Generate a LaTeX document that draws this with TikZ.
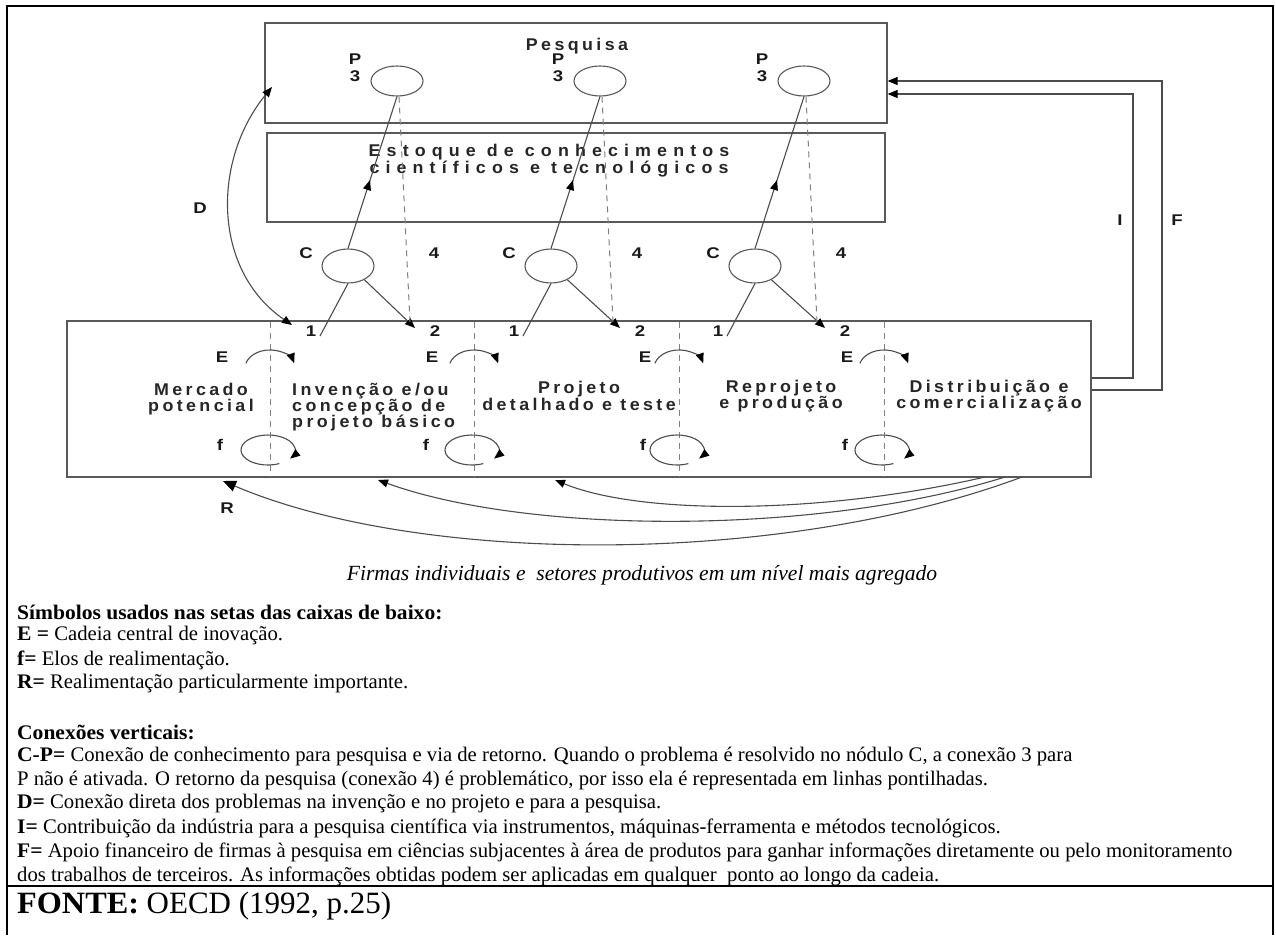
\documentclass[tikz,border=0pt]{standalone}
\usepackage{fontspec}
\setmainfont{Liberation Serif}[BoldFeatures={FakeStretch=1.04}]
\newfontfamily\diagfont[LetterSpace=20, FakeStretch=1.05]{Liberation Sans}
\newfontfamily\diagwide[LetterSpace=36, FakeStretch=1.05]{Liberation Sans}
\newfontfamily\labfont[FakeStretch=1.2]{Liberation Sans}
\usetikzlibrary{arrows.meta,decorations.markings,shapes.geometric}

\begin{document}
\begin{tikzpicture}[x=1pt,y=-1pt,
  frame/.style={draw=black, line width=2.6pt},
  box/.style={draw=black!65, line width=1.2pt, inner sep=0},
  circ/.style={ellipse, draw=black!65, line width=1.1pt, inner sep=0},
  line/.style={draw=black!70, line width=1.1pt},
  dashline/.style={draw=black!50, line width=1pt, dash pattern=on 6pt off 5pt},
  tip/.style={-{Triangle[length=10pt,width=8pt,color=black]}},
  bigtip/.style={-{Triangle[length=13pt,width=11pt,color=black]}},
  midarrow/.style={postaction={decorate}, decoration={markings,
      mark=at position 0.45 with {\arrow{Triangle[length=10pt,width=8pt,color=black]}}}},
  txt/.style={font=\diagfont\bfseries\fontsize{17}{16.3}\selectfont, align=center, inner sep=0, text=black!85},
  widetxt/.style={font=\diagwide\bfseries\fontsize{17}{15.5}\selectfont, align=center, inner sep=0, text=black!85},
  lab/.style={font=\labfont\bfseries\fontsize{15.5}{17}\selectfont, align=center, inner sep=0, text=black!90},
  note/.style={font=\fontsize{20.7}{24}\selectfont, anchor=west, inner sep=0},
]
\useasboundingbox (0,0) rectangle (1276,935);

% outer frame of the figure panel
\draw[frame] (7,935) -- (7,6) -- (1273,6) -- (1273,935);
\draw[frame] (7,886) -- (1273,886);

% the three main boxes
\node[box, minimum width=622pt, minimum height=100pt] (pesq) at (576,73) {};
\node[txt] (pesqlab) at (577,46) {Pesquisa};
\node[box, minimum width=618pt, minimum height=89pt] (estoque) at (576,177.5) {};
\node[widetxt] (estlab) at (549,161) {Estoque de conhecimentos\\científicos e tecnológicos};
\node[box, minimum width=1024pt, minimum height=156pt] (firmas) at (579,399) {};

% stage dividers inside the lower box
\foreach \d in {270,474,679,884}
  \draw[dashline] (\d,322) -- (\d,477);

% stage names
\node[txt] (s1) at (201,399) {Mercado\\potencial};
\node[txt, align=left, anchor=west] (s2) at (292,407) {Invenção e/ou\\concepção de\\projeto básico};
\node[txt] (s3) at (579,396) {Projeto\\detalhado e teste};
\node[txt] (s4) at (781,396) {Reprojeto\\e produção};
\node[txt] (s5) at (989,396) {Distribuição e\\comercialização};

% C / P links for the three middle stages
\foreach \i/\px/\cx/\tx in {1/397/348/415, 2/600/551/620, 3/804/755/825} {
  \node[circ, minimum width=52pt, minimum height=30pt] (P\i) at (\px,81) {};
  \node[circ, minimum width=52pt, minimum height=34pt] (C\i) at (\cx,266) {};
  \node[lab] (Pl\i) at (\px-42,68) {P\\3};
  \node[lab] (Cl\i) at (\cx-42,253) {C};
  \node[lab] (Fl\i) at (\cx+86,253) {4};
  \node[lab] (one\i) at (\cx-37,331) {1};
  \node[lab] (two\i) at (\tx+20,331) {2};
  \coordinate (ones\i) at (\cx-28,336);
  \coordinate (twot\i) at (\tx,328);
  \coordinate (fourt\i) at (\px+13,322);
  \draw[line] (ones\i) -- (C\i.south);
  \draw[line, tip] (C\i.-40) -- (twot\i);
  \draw[line, midarrow] (C\i.north) -- (P\i.south);
  \draw[dashline] ([xshift=2pt]P\i.south) -- (fourt\i);
}

% central chain (E) and feedback loops (f)
\foreach \d/\ex/\fx [count=\k] in {270/222/220, 474/432/426, 679/645/643, 884/847/845} {
  \node[lab] (E\k) at (\ex,357) {E};
  \node[lab] (f\k) at (\fx,445) {f};
  \draw[line, tip] (\d-24.1,363.3) arc[start angle=195, end angle=345, x radius=25, y radius=18];
  \draw[line, tip] (\d+9.4,463.6) arc[start angle=65, end angle=395, x radius=27, y radius=15];
}

% D: direct link between invention and research
\coordinate (Dlow) at (292,325);
\coordinate (Dup) at (272,87);
\draw[line, {Triangle[length=10pt,width=8pt,color=black]}-{Triangle[length=10pt,width=8pt,color=black]}]
  (Dlow) .. controls (212,270) and (212,160) .. (Dup);
\node[lab] (Dl) at (200,208) {D};

% R: long feedback paths from the market end
\coordinate (r1s) at (1022,477);
\coordinate (r1e) at (223,481);
\coordinate (r2s) at (1005,477);
\coordinate (r2e) at (378,480);
\coordinate (r3s) at (985,477);
\coordinate (r3e) at (555,480);
\draw[line, bigtip] (r1s) .. controls (780,567) and (420,565) .. (r1e);
\draw[line, tip] (r2s) .. controls (820,535) and (530,535) .. (r2e);
\draw[line, tip] (r3s) .. controls (820,515) and (640,515) .. (r3e);
\node[lab] (Rl) at (227,508) {R};

% I and F: industry and firms back to research
\draw[line, tip] (firmas.east |- 0,378) -- (1133,378) -- (1133,94) -- (pesq.east |- 0,94);
\draw[line, tip] (firmas.east |- 0,390) -- (1162,390) -- (1162,81) -- (pesq.east |- 0,81);
\node[lab] (Il) at (1120,220) {I};
\node[lab] (Ful) at (1177,220) {F};

% caption and legend
\node[font=\itshape\fontsize{21.6}{25}\selectfont, inner sep=0] (cap) at (642,575)
  {Firmas individuais e \ setores produtivos em um nível mais agregado};
\node[note] (n1) at (17,612) {\textbf{Símbolos usados nas setas das caixas de baixo:}};
\node[note] (n2) at (17,636) {\textbf{E =} Cadeia central de inovação.};
\node[note] (n3) at (17,660) {\textbf{f=} Elos de realimentação.};
\node[note] (n4) at (17,684) {\textbf{R=} Realimentação particularmente importante.};
\node[note] (n5) at (17,732) {\textbf{Conexões verticais:}};
\node[note] (n6) at (17,756) {\textbf{C-P=} Conexão de conhecimento para pesquisa e via de retorno. Quando o problema é resolvido no nódulo C, a conexão 3 para};
\node[note] (n7) at (17,780) {P não é ativada. O retorno da pesquisa (conexão 4) é problemático, por isso ela é representada em linhas pontilhadas.};
\node[note] (n8) at (17,804) {\textbf{D=} Conexão direta dos problemas na invenção e no projeto e para a pesquisa.};
\node[note] (n9) at (17,828) {\textbf{I=} Contribuição da indústria para a pesquisa científica via instrumentos, máquinas-ferramenta e métodos tecnológicos.};
\node[note] (n10) at (17,852) {\textbf{F=} Apoio financeiro de firmas à pesquisa em ciências subjacentes à área de produtos para ganhar informações diretamente ou pelo monitoramento};
\node[note] (n11) at (17,876) {dos trabalhos de terceiros. As informações obtidas podem ser aplicadas em qualquer \ ponto ao longo da cadeia.};
\node[note, font=\fontsize{31}{34}\selectfont] (src) at (17,906) {\textbf{FONTE:} OECD (1992, p.25)};
\end{tikzpicture}
\end{document}
